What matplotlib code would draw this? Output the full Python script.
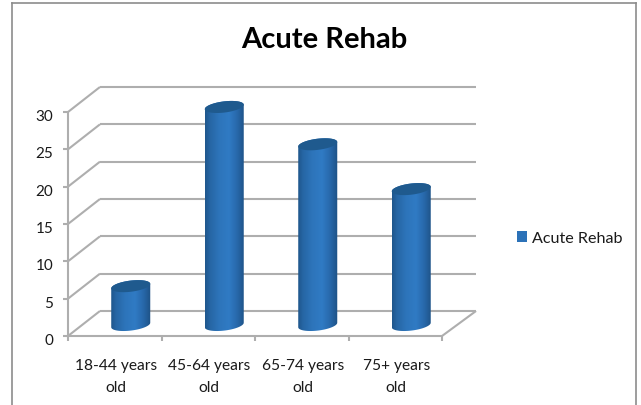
#!/usr/bin/env python3
"""Acute Rehab: Excel-style 3D cylinder column chart."""

import matplotlib
matplotlib.use("Agg")
import matplotlib.pyplot as plt
import numpy as np
from matplotlib.lines import Line2D
from matplotlib.patches import PathPatch, Patch
from matplotlib.path import Path

CATEGORIES = ["18-44 years\nold", "45-64 years\nold", "65-74 years\nold", "75+ years\nold"]
VALUES = [5, 29, 24, 18]
Y_TICKS = [0, 5, 10, 15, 20, 25, 30]
TITLE = "Acute Rehab"
SERIES = "Acute Rehab"

W, H = 641, 406
LEFT, RIGHT, BOTTOM, TOP = 68, 442, 337, 113  # front plane, pixels
DEPTH_X = 0.342   # wall depth in category units
DEPTH_XR = 0.364  # same, right hand end
DEPTH_Y = 3.35    # wall depth in value units
RADIUS = 0.2086
GRID = "#aeaeae"

plt.rcParams["font.family"] = ["Lato", "DejaVu Sans"]

fig = plt.figure(figsize=(W / 100, H / 100), dpi=100)
ax = fig.add_axes([LEFT / W, 1 - BOTTOM / H, (RIGHT - LEFT) / W, (BOTTOM - TOP) / H])
ax.set_xlim(-0.5, 3.5)
ax.set_ylim(0, 30)
ax.axis("off")


def line(xs, ys, color=GRID, lw=1.5):
    ax.plot(xs, ys, color=color, lw=lw, clip_on=False, solid_capstyle="butt", zorder=1)


# walls and floor
for v in Y_TICKS:
    line([-0.5, -0.5 + DEPTH_X], [v, v + DEPTH_Y])
    line([-0.5 + DEPTH_X, 3.5 + DEPTH_XR], [v + DEPTH_Y, v + DEPTH_Y])
    line([-0.55, -0.5], [v, v])
    ax.text(-0.66, v - 0.55, str(v), ha="right", va="center", fontsize=11, color="#1a1a1a")
line([-0.5, -0.5], [0, 30])
line([-0.5, 3.5], [0, 0])
line([3.5, 3.5 + DEPTH_XR], [0, DEPTH_Y])
for i in range(5):
    line([i - 0.5, i - 0.5], [0, -0.7])
for i, cat in enumerate(CATEGORIES):
    ax.text(i + 0.01, -3.0, cat, ha="center", va="top", fontsize=11.2, color="#1a1a1a", linespacing=1.68)

# cylinders
shade = np.array([0.0, 0.12, 0.35, 0.6, 0.8, 1.0])
pos = np.linspace(0, 1, 80)
r_col = np.interp(pos, shade, [0x1f, 0x26, 0x2d, 0x30, 0x28, 0x1e])
g_col = np.interp(pos, shade, [0x56, 0x66, 0x74, 0x7b, 0x69, 0x52])
b_col = np.interp(pos, shade, [0x8c, 0xa4, 0xba, 0xc4, 0xac, 0x86])
grad = np.dstack([r_col, g_col, b_col]) / 255

t = np.linspace(0, np.pi, 40)
B = 0.75   # ellipse half height, value units
S = 0.3    # tilt, value units

for i, val in enumerate(VALUES):
    cx = i + DEPTH_X / 2
    y0 = DEPTH_Y / 2 - 0.2
    y1 = DEPTH_Y / 2 + val
    x_arc = cx + RADIUS * np.cos(t)
    top_back = y1 + B * np.sin(t) + S * np.cos(t)
    top_front = y1 - B * np.sin(t) + S * np.cos(t)
    bot_front = y0 - B * np.sin(t) + S * np.cos(t)
    # body: bottom front arc left to right, then up and over the back of the top
    xs = np.r_[x_arc[::-1], x_arc]
    ys = np.r_[bot_front[::-1], top_back]
    body = PathPatch(Path(np.column_stack([xs, ys])), fc="none", ec="none", zorder=2, clip_on=False)
    ax.add_patch(body)
    im = ax.imshow(grad, extent=[cx - RADIUS, cx + RADIUS, y0 - 2, y1 + 2], aspect="auto",
                   zorder=2, interpolation="bilinear")
    im.set_clip_box(fig.bbox)
    im.set_clip_path(body)
    cap = PathPatch(Path(np.column_stack([np.r_[x_arc, x_arc[::-1]], np.r_[top_back, top_front[::-1]]])),
                    fc="#1f5a8e", ec="none", zorder=3, clip_on=False)
    ax.add_patch(cap)

ax.set_xlim(-0.5, 3.5)
ax.set_ylim(0, 30)

fig.text(324 / W, 1 - 40 / H, TITLE, ha="center", va="center", fontsize=21, fontweight="bold", color="black")

leg = fig.legend(handles=[Patch(fc="#2c72b8", ec="none", label=SERIES)],
                 loc="center left", bbox_to_anchor=(517 / W, 1 - 239 / H), frameon=False,
                 fontsize=11.6, handlelength=0.62, handleheight=0.62, handletextpad=0.3,
                 borderpad=0, borderaxespad=0, labelcolor="#1a1a1a")

# outer chart frame
for xs, ys in [((11.5, 11.5), (4, 406)), ((11.5, 636), (4, 4)), ((636, 636), (4, 406))]:
    fig.add_artist(Line2D([x / W for x in xs], [1 - y / H for y in ys], color="#8c8c8c", lw=1.2))

fig.savefig("out.png", dpi=100)
plt.close(fig)
